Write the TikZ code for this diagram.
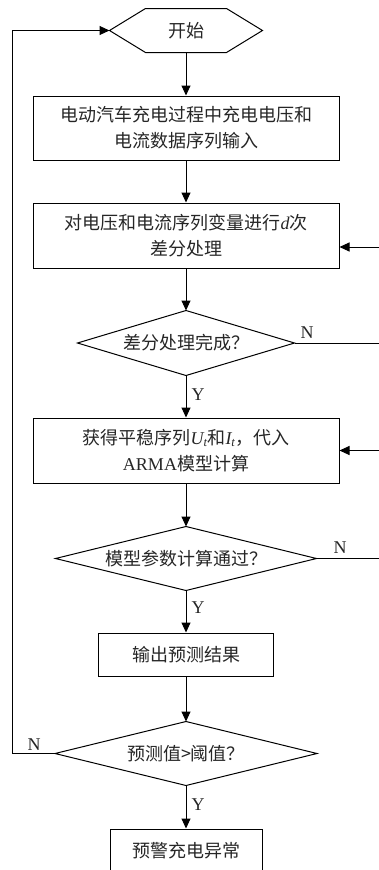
\documentclass[tikz,border=0pt]{standalone}
\usepackage{fontspec}
\setmainfont{Liberation Serif}
\newfontfamily\cjk{Noto Sans CJK SC}
\usetikzlibrary{arrows.meta}
\begin{document}
\begin{tikzpicture}[x=1pt,y=-1pt,line width=1pt,
  txt/.style={inner sep=0pt,align=center,text=black!85,font=\fontsize{18}{26}\selectfont\cjk},
  box/.style={txt,draw=black,minimum width=306pt,minimum height=65pt},
  arr/.style={-{Triangle[length=10pt,width=9pt]}},
  lbl/.style={inner sep=0pt,text=black!85,font=\fontsize{18}{20}\selectfont\rmfamily}]
\useasboundingbox (0,0) rectangle (379,870);
% nodes
\node[txt,minimum width=152pt,minimum height=43pt] (start) at (186,30.5) {开始};
\draw (start.west) -- ([xshift=36pt]start.north west) -- ([xshift=-36pt]start.north east)
  -- (start.east) -- ([xshift=-36pt]start.south east) -- ([xshift=36pt]start.south west) -- cycle;
\node[box,minimum height=64pt] (b1) at (186,128) {电动汽车充电过程中充电电压和\\电流数据序列输入};
\node[box] (b2) at (186,235.5) {对电压和电流序列变量进行{\rmfamily\itshape d}次\\差分处理};
\node[txt,minimum width=216pt,minimum height=64pt] (d1) at (186,343) {差分处理完成？};
\draw (d1.north) -- (d1.east) -- (d1.south) -- (d1.west) -- cycle;
\node[box] (b3) at (186,450.5) {获得平稳序列{\rmfamily\itshape U\textsubscript{t}}和{\rmfamily\itshape I\textsubscript{t}}，代入\\{\rmfamily ARMA}模型计算};
\node[txt,minimum width=260pt,minimum height=63pt] (d2) at (186,558.5) {模型参数计算通过？};
\draw (d2.north) -- (d2.east) -- (d2.south) -- (d2.west) -- cycle;
\node[box,minimum width=175pt,minimum height=43pt] (b4) at (186,654.5) {输出预测结果};
\node[txt,minimum width=261pt,minimum height=63pt] (d3) at (186,753.5) {预测值>阈值？};
\draw (d3.north) -- (d3.east) -- (d3.south) -- (d3.west) -- cycle;
\node[box,minimum width=152pt,minimum height=43pt] (b5) at (186,850.5) {预警充电异常};
% coordinates
\coordinate (rx) at (382,0);
\coordinate (lx) at (12,0);
\coordinate (b2in) at ([yshift=-11.5pt]b2.east);
% connectors
\draw[arr] (start.south) -- (b1.north);
\draw[arr] (b1.south) -- (b2.north);
\draw[arr] (b2.south) -- (d1.north);
\draw[arr] (d1.south) -- (b3.north);
\draw[arr] (b3.south) -- (d2.north);
\draw[arr] (d2.south) -- (b4.north);
\draw[arr] (b4.south) -- (d3.north);
\draw[arr] (d3.south) -- (b5.north);
\draw[arr] (d1.east) -- (d1.east -| rx) |- (b2in);
\draw[arr] (d2.east) -- (d2.east -| rx) |- (b3.east);
\draw[arr] (d3.west) -- (d3.west -| lx) |- (start.west);
% labels
\node[lbl] (y1) at (198,395) {Y};
\node[lbl] (y2) at (198,608) {Y};
\node[lbl] (y3) at (198,805) {Y};
\node[lbl] (n1) at (307,333) {N};
\node[lbl] (n2) at (340,548) {N};
\node[lbl] (n3) at (34,745) {N};
\end{tikzpicture}
\end{document}
